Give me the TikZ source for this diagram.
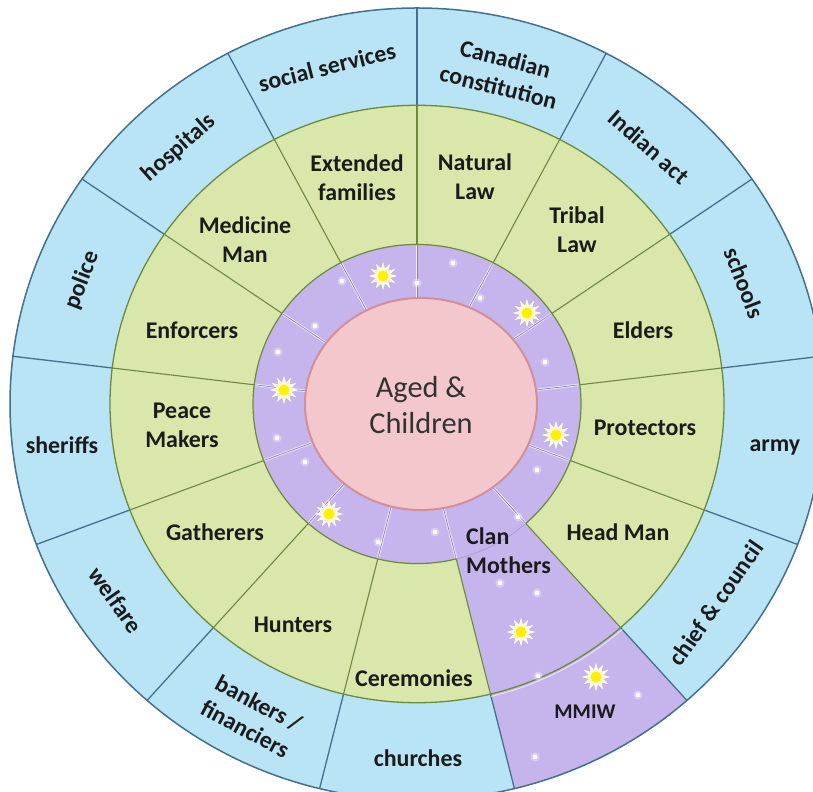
\documentclass[tikz,border=0pt]{standalone}
\usepackage{fontspec}
\setmainfont{Carlito}
\usetikzlibrary{shapes.geometric}
\definecolor{Sky}{HTML}{B9E4F6}
\definecolor{SkyRule}{HTML}{44708F}
\definecolor{Leaf}{HTML}{D9E7AA}
\definecolor{LeafRule}{HTML}{6C8A3E}
\definecolor{Lilac}{HTML}{C6B5EC}
\definecolor{LilacRule}{HTML}{8C79BF}
\definecolor{Blush}{HTML}{F4C7CC}
\definecolor{BlushRule}{HTML}{D28F9A}
\definecolor{Ink}{HTML}{1B1B1B}
\definecolor{SunCore}{HTML}{FFF000}
\definecolor{SunRay}{HTML}{FFFAC8}
\newcommand{\wheelsector}[5]{
  \fill[#1] (#2:#4) arc[start angle=#2,end angle=#3,radius=#4]
    -- (#3:#5) arc[start angle=#3,end angle=#2,radius=#5] -- cycle;
}

\begin{document}
\begin{tikzpicture}[x=1bp,y=-1bp,
  ringtext/.style={text=Ink,font=\bfseries\fontsize{24}{29}\selectfont,
    align=center,inner sep=0bp},
  sun/.style={star,star points=12,star point ratio=1.9,minimum size=26bp,
    inner sep=0bp,fill=SunRay,draw=white,line width=.6bp,
    path picture={\fill[SunCore] (path picture bounding box.center) circle (5.5bp);}}]
  \path[use as bounding box] (0,0) rectangle (813,792);
  \clip (0,0) rectangle (813,792);
  \fill[white] (0,0) rectangle (813,792);

  % thirteen spokes through all three rings
  \begin{scope}[shift={(417,404)},yscale=-0.973]
    \fill[Sky] (0,0) circle[radius=407];
    \fill[Leaf] (0,0) circle[radius=307];
    \wheelsector{Lilac}{283.85}{311.54}{160}{407}
    \fill[Lilac] (0,0) circle[radius=164];
    \foreach \k in {0,...,12} {
      \pgfmathsetmacro\a{90+\k*360/13}
      \draw[SkyRule,line width=1.3bp] (\a:307) -- (\a:407);
      \draw[LeafRule,line width=1.1bp] (\a:164) -- (\a:307);
      \draw[white,opacity=.75,line width=2.4bp] (\a:100) -- (\a:164);
      \draw[LilacRule,line width=.7bp] (\a:100) -- (\a:164);
    }
    \draw[SkyRule,line width=1.5bp] (0,0) circle[radius=407];
    \draw[white,opacity=.6,line width=1bp]
      (283.85:309.5) arc[start angle=283.85,end angle=311.54,radius=309.5];
    \draw[LeafRule,line width=1.3bp] (0,0) circle[radius=307];
    \draw[LeafRule,line width=1.2bp]
      (311.54:164) arc[start angle=311.54,end angle=643.85,radius=164];
    \draw[LilacRule,opacity=.6,line width=.5bp]
      (283.85:164) arc[start angle=283.85,end angle=311.54,radius=164];
    \filldraw[fill=Blush,draw=BlushRule,line width=2bp]
      (4,0) circle[x radius=116,y radius=109];
  \end{scope}

  \foreach \p in {(342,281),(417,283),(453,263),(480,298),(315,326),(278,352),
      (277,438),(305,462),(378,542),(435,532),(518,517),(537,470),(545,362),
      (500,583),(537,593),(538,676),(638,695),(535,757)} {
    \fill[white,opacity=.35] \p circle (4.5bp);
    \fill[white] \p circle (2.3bp);
  }
  \node[sun] (sun1) at (383,276) {};
  \node[sun] (sun2) at (527,313) {};
  \node[sun] (sun3) at (284,390) {};
  \node[sun] (sun4) at (556,435) {};
  \node[sun] (sun5) at (329,514) {};
  \node[sun] (sun6) at (521,632) {};
  \node[sun] (sun7) at (596,677) {};

  \node[text=Ink!90,font=\fontsize{30.5}{36}\selectfont,align=center,inner sep=0bp]
    (aged) at (421,405) {Aged \&\\Children};

  \node[ringtext] (extended) at (357,178) {Extended\\families};
  \node[ringtext] (natural) at (475,177) {Natural\\Law};
  \node[ringtext] (tribal) at (577,230) {Tribal\\Law};
  \node[ringtext] (elders) at (643,330) {Elders};
  \node[ringtext] (protectors) at (645,428) {Protectors};
  \node[ringtext] (headman) at (618,532) {Head Man};
  \node[ringtext,align=left,anchor=west] (clan) at (466,551) {Clan\\Mothers};
  \node[ringtext] (ceremonies) at (414,678) {Ceremonies};
  \node[ringtext] (hunters) at (293,625) {Hunters};
  \node[ringtext] (gatherers) at (215,532) {Gatherers};
  \node[ringtext] (peace) at (182,425) {Peace\\Makers};
  \node[ringtext] (enforcers) at (192,330) {Enforcers};
  \node[ringtext] (medicine) at (245,240) {Medicine\\Man};

  \node[ringtext,rotate=14] (social) at (327,67) {social services};
  \node[ringtext,rotate=-14] (constitution) at (502,73) {Canadian\\constitution};
  \node[ringtext,rotate=-41.5] (indian) at (649,147) {Indian act};
  \node[ringtext,rotate=-69] (schools) at (744,283) {schools};
  \node[ringtext] (army) at (775,447) {army};
  \node[ringtext,rotate=55] (chief) at (716,603) {chief \& council};
  \node[ringtext,font=\bfseries\fontsize{21}{25}\selectfont] (mmiw) at (585,712) {MMIW};
  \node[ringtext] (churches) at (418,758) {churches};
  \node[ringtext,rotate=-28] (bankers) at (252,716) {bankers /\\financiers};
  \node[ringtext,rotate=-55] (welfare) at (116,600) {welfare};
  \node[ringtext] (sheriffs) at (62,445) {sheriffs};
  \node[ringtext,rotate=69] (police) at (82,280) {police};
  \node[ringtext,rotate=41.5] (hospitals) at (179,148) {hospitals};
\end{tikzpicture}
\end{document}
